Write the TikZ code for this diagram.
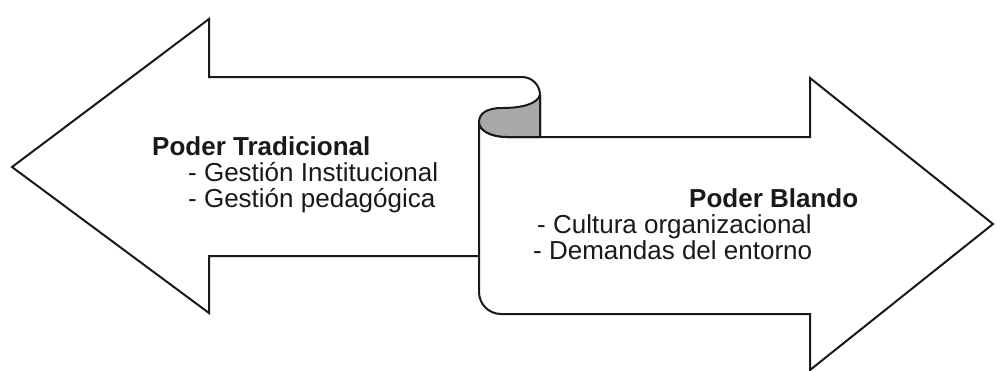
\documentclass[tikz,border=0pt]{standalone}
\usepackage{fontspec}
\setmainfont{Liberation Sans}
\usepackage{tikz}
\usetikzlibrary{positioning}
\definecolor{curlgray}{RGB}{167,169,168}

\begin{document}
\begin{tikzpicture}[x=1pt,y=-1pt]
	\tikzset{
		arrowshape/.style={draw=black!90,line width=2pt,fill=white,line join=miter},
		curlshape/.style={draw=black!90,line width=2pt,fill=curlgray,line join=round},
		label/.style={anchor=base west,inner sep=0pt,font=\fontsize{26}{26}\selectfont,text=black!90},
		title/.style={label,font=\fontsize{26}{26}\selectfont\bfseries}
	}
	\useasboundingbox (0,0) rectangle (996,370);
	% left arrow
	\draw[arrowshape] (12,167) -- (209,19) -- (209,77) -- (522,77)
		arc[start angle=-90,end angle=0,radius=18] -- (540,256) -- (209,256)
		-- (209,313) -- cycle;
	% right arrow
	\draw[arrowshape] (507,137) -- (810,137) -- (810,78) -- (993,224)
		-- (810,370) -- (810,314) -- (501,314)
		arc[start angle=90,end angle=180,radius=22] -- (479,122)
		.. controls (479,131) and (492,137) .. (507,137) -- cycle;
	% curl
	\draw[curlshape] (540,95) .. controls (537,104) and (522,108) .. (502,108)
		.. controls (486,108) and (479,114) .. (479,122)
		.. controls (479,131) and (492,137) .. (507,137) -- (540,137) -- cycle;
	% texts
	\node[title] (pt) at (152,155) {Poder Tradicional};
	\node[label] (gi) at (188,181) {- Gestión Institucional};
	\node[label] (gp) at (188,207) {- Gestión pedagógica};
	\node[title] (pb) at (689,207) {Poder Blando};
	\node[label] (co) at (537,233) {- Cultura organizacional};
	\node[label] (de) at (533,259) {- Demandas del entorno};
\end{tikzpicture}
\end{document}
